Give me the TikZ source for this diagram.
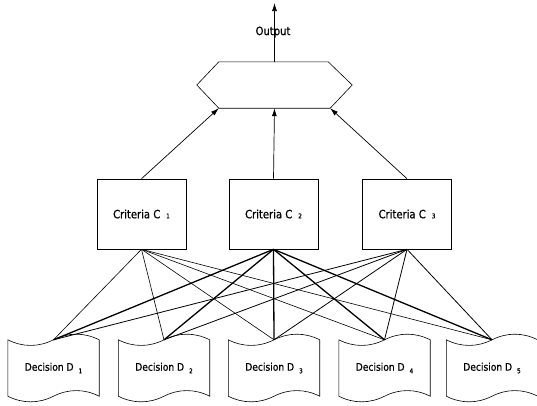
\documentclass[tikz,border=0pt]{standalone}
\usepackage{fontspec}
\setmainfont{DejaVu Sans}[FakeStretch=0.87,FakeBold=0.8]
\usetikzlibrary{arrows.meta}
\newcommand{\crsub}[1]{\hspace{6pt}{\fontsize{6.5}{6.5}\selectfont #1}}
\newcommand{\desub}[1]{\hspace{5pt}\raisebox{-2.5pt}{\fontsize{6.5}{6.5}\selectfont #1}}
\begin{document}
\begin{tikzpicture}[x=1pt,y=-1pt,
  crit/.style={draw,line width=0.6pt,minimum width=89pt,minimum height=70pt,inner sep=0pt,font=\fontsize{11.5}{13}\selectfont},
  dec/.style={minimum width=91pt,minimum height=56pt,inner sep=0pt,font=\fontsize{10.5}{12}\selectfont},
  decline/.style={line width=0.6pt},
  arr/.style={-{Latex[length=8pt,width=5pt]},line width=0.7pt},
  linkA/.style={line width=0.6pt},
  linkB/.style={line width=1.3pt},
  linkC/.style={line width=0.8pt}]
\useasboundingbox (0,0) rectangle (537,405);

% hexagon
\node (hex) at (274.5,85) [minimum width=155pt,minimum height=46pt,inner sep=0pt] {};
\draw[line width=0.6pt] (hex.west) -- ([xshift=22pt]hex.north west) -- ([xshift=-24pt]hex.north east) -- (hex.east) -- ([xshift=-22pt]hex.south east) -- ([xshift=22pt]hex.south west) -- cycle;
\coordinate (hin1) at ([xshift=22pt]hex.south west);
\coordinate (hin3) at ([xshift=-22pt]hex.south east);

% output
\coordinate (out) at (274.5,3);
\draw[arr] (hex.north) -- (out);
\node[font=\fontsize{11.5}{13}\selectfont] (outlbl) at (273,32) {Output};

% criteria
\node[crit] (c1) at (141.5,214) {Criteria C\crsub{1}};
\node[crit] (c2) at (273.5,214) {Criteria C\crsub{2}};
\node[crit] (c3) at (407,214) {Criteria C\crsub{3}};

\draw[arr] (c1.north) -- (hin1);
\draw[arr] (c2.north) -- (hex.south);
\draw[arr] (c3.north) -- (hin3);

% decisions
\node[dec] (d1) at (53.5,368) {Decision D\desub{1}};
\node[dec] (d2) at (164,368) {Decision D\desub{2}};
\node[dec] (d3) at (274,368) {Decision D\desub{3}};
\node[dec] (d4) at (384.5,368) {Decision D\desub{4}};
\node[dec] (d5) at (492,368) {Decision D\desub{5}};

\foreach \d in {d1,d2,d3,d4,d5} {
  \draw[decline] (\d.north west)
     .. controls +(15,7.5) and +(-15,7.5) .. (\d.north)
     .. controls +(15,-7.5) and +(-15,-7.5) .. (\d.north east)
     -- (\d.south east)
     .. controls +(-15,-7.5) and +(15,-7.5) .. (\d.south)
     .. controls +(-15,7.5) and +(15,7.5) .. (\d.south west)
     -- cycle;
}

% links
\foreach \d in {d1,d2,d3,d4,d5} {
  \draw[linkA] (c1.south) -- (\d.north);
  \draw[linkB] (c2.south) -- (\d.north);
  \draw[linkC] (c3.south) -- (\d.north);
}
\end{tikzpicture}
\end{document}
